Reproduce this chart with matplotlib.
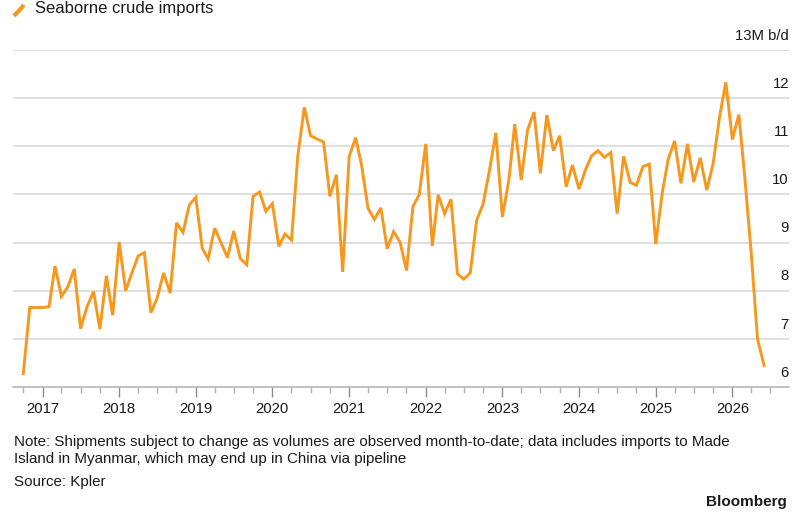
import numpy as np
import pandas as pd
import matplotlib
matplotlib.use("Agg")
import matplotlib.pyplot as plt
import matplotlib.dates as mdates

plt.rcParams['font.family'] = ['Liberation Sans', 'DejaVu Sans']

# Monthly seaborne crude imports, million b/d (Oct 2016 - Jun 2026)
start_month = "2016-10-01"
imports = [
    6.28, 7.65, 7.65,
    7.65, 7.67, 8.51, 7.88, 8.08, 8.45, 7.21, 7.67, 7.98, 7.20, 8.31, 7.49,
    9.01, 8.00, 8.35, 8.72, 8.79, 7.54, 7.85, 8.37, 7.95, 9.41, 9.21, 9.78,
    9.94, 8.88, 8.66, 9.30, 9.00, 8.69, 9.24, 8.67, 8.54, 9.96, 10.05, 9.65,
    9.81, 8.92, 9.18, 9.05, 10.79, 11.81, 11.22, 11.15, 11.09, 9.96, 10.41, 8.39,
    10.79, 11.18, 10.61, 9.71, 9.48, 9.72, 8.87, 9.23, 9.00, 8.42, 9.75, 10.00,
    11.05, 8.93, 9.99, 9.60, 9.90, 8.35, 8.24, 8.37, 9.47, 9.80, 10.51, 11.28,
    9.53, 10.30, 11.46, 10.30, 11.34, 11.71, 10.44, 11.65, 10.91, 11.22, 10.16, 10.61,
    10.11, 10.51, 10.80, 10.91, 10.77, 10.87, 9.60, 10.79, 10.25, 10.19, 10.58, 10.63,
    8.97, 10.03, 10.73, 11.11, 10.23, 11.05, 10.26, 10.76, 10.09, 10.63, 11.61, 12.33,
    11.14, 11.66, 10.37, 8.78, 7.00, 6.45,
]
months = pd.date_range(start_month, periods=len(imports), freq="MS")

y_ticks = [6, 7, 8, 9, 10, 11, 12, 13]
y_labels = ["6", "7", "8", "9", "10", "11", "12", "13M b/d"]

title = "Seaborne crude imports"
note = ("Note: Shipments subject to change as volumes are observed month-to-date; data includes imports to Made\n"
        "Island in Myanmar, which may end up in China via pipeline")
source = "Source: Kpler"

orange = "#F7981D"
text_c = "#1a1a1a"
grid_c = "#d6d6d6"

fig = plt.figure(figsize=(7.98, 5.16), dpi=100)
ax = fig.add_axes([13 / 798, 1 - 387 / 516, 776 / 798, 337 / 516])

ax.plot(months, imports, color=orange, lw=2.1, solid_joinstyle="miter", zorder=3)

ax.set_ylim(6, 13)
ax.set_xlim(pd.Timestamp("2016-08-13"), pd.Timestamp("2026-09-28"))

# horizontal grid, labels sit above the lines on the right
for v, lab in zip(y_ticks, y_labels):
    if v > 6:
        ax.axhline(v, color=grid_c, lw=1.1, zorder=1)
    ax.text(1.0, v + 0.15, lab, transform=ax.get_yaxis_transform(),
            ha="right", va="bottom", fontsize=10.7, color=text_c)
ax.set_yticks([])

for s in ["top", "left", "right"]:
    ax.spines[s].set_visible(False)
ax.spines["bottom"].set_color("#b0b0b0")
ax.spines["bottom"].set_linewidth(1.1)

ax.xaxis.set_major_locator(mdates.YearLocator())
ax.xaxis.set_major_formatter(mdates.DateFormatter("%Y"))
ax.xaxis.set_minor_locator(mdates.MonthLocator(bymonth=[4, 7, 10]))
ax.tick_params(axis="x", which="major", length=7, width=1, color="#8a8a8a",
               labelsize=10.7, labelcolor=text_c, pad=4)
ax.tick_params(axis="x", which="minor", length=4, width=1, color="#b0b0b0")

# legend-like title with a small slash
fig.add_artist(plt.Line2D([14 / 798, 24 / 798], [1 - 16 / 516, 1 - 5 / 516],
                          color=orange, lw=3, solid_capstyle="butt"))
fig.text(35 / 798, 1 - 9 / 516, title, ha="left", va="center",
         fontsize=12, color=text_c)

fig.text(14 / 798, 1 - 435 / 516, note, ha="left", va="top",
         fontsize=10.9, color=text_c, linespacing=1.3)
fig.text(14 / 798, 1 - 475 / 516, source, ha="left", va="top",
         fontsize=10.9, color=text_c)
fig.text(787 / 798, 1 - 502 / 516, "Bloomberg", ha="right", va="center",
         fontsize=11, fontweight="bold", color=text_c)

fig.savefig("out.png", dpi=100, facecolor="white")
